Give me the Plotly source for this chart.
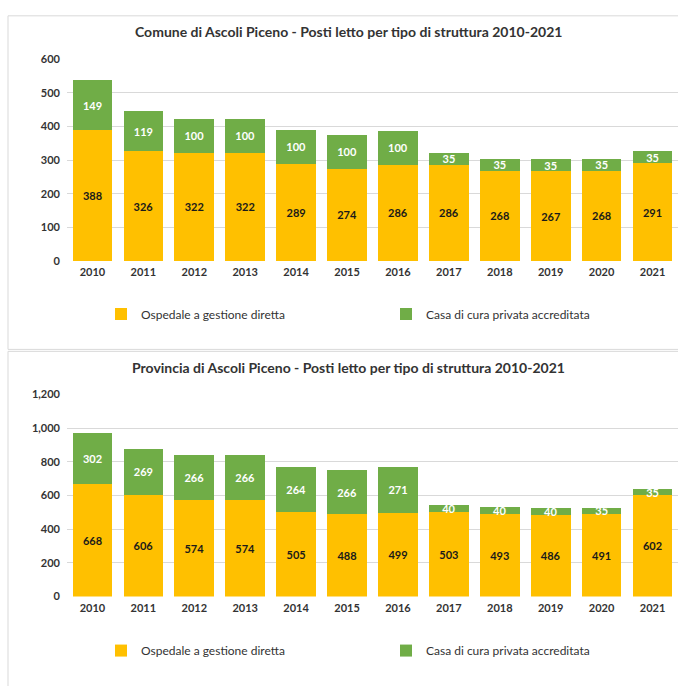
import plotly.graph_objects as go

years = [str(y) for y in range(2010, 2022)]
comune_ospedale = [388, 326, 322, 322, 289, 274, 286, 286, 268, 267, 268, 291]
comune_casa = [149, 119, 100, 100, 100, 100, 100, 35, 35, 35, 35, 35]
prov_ospedale = [668, 606, 574, 574, 505, 488, 499, 503, 493, 486, 491, 602]
prov_casa = [302, 269, 266, 266, 264, 266, 271, 40, 40, 40, 35, 35]

name_osp = "Ospedale a gestione diretta"
name_casa = "Casa di cura privata accreditata"
title_top = "Comune di Ascoli Piceno - Posti letto per tipo di struttura 2010-2021"
title_bot = "Provincia di Ascoli Piceno - Posti letto per tipo di struttura 2010-2021"

YELLOW = "#FFC000"
GREEN = "#70AD47"
FONT = "Lato"
TXT = "#333333"

W, H = 678, 686

fig = go.Figure()

def add_pair(osp, casa, xa, ya, leg):
    fig.add_trace(go.Bar(x=years, y=osp, name=name_osp,
                         marker=dict(color=YELLOW, line=dict(width=0)),
                         text=osp, textposition="inside", insidetextanchor="middle",
                         textangle=0,
                         textfont=dict(color="#1a1a1a", size=11, family=FONT, weight="bold"),
                         xaxis=xa, yaxis=ya, legend=leg, hoverinfo="skip"))
    fig.add_trace(go.Bar(x=years, y=casa, name=name_casa,
                         marker=dict(color=GREEN, line=dict(width=0)),
                         text=casa, textposition="inside", insidetextanchor="middle",
                         textangle=0,
                         textfont=dict(color="white", size=11, family=FONT, weight="bold"),
                         xaxis=xa, yaxis=ya, legend=leg, hoverinfo="skip"))

add_pair(comune_ospedale, comune_casa, "x", "y", "legend")
add_pair(prov_ospedale, prov_casa, "x2", "y2", "legend2")

def px_y(p):
    return 1 - p / H

x_dom = [67 / W, 1.0]
axis_common = dict(showgrid=False, showline=False, ticks="", ticklabelstandoff=3,
                   tickfont=dict(size=11, color=TXT, family=FONT, weight="bold"))
yaxis_common = dict(showgrid=True, gridcolor="#D9D9D9", gridwidth=1, zeroline=False,
                    showline=False, ticks="", ticklabelstandoff=6,
                    tickfont=dict(size=11, color=TXT, family=FONT, weight="bold"))

legend_common = dict(orientation="h", x=101 / W, xanchor="left", yanchor="middle",
                     entrywidth=240, entrywidthmode="pixels", traceorder="normal",
                     font=dict(size=12, color=TXT, family=FONT),
                     bgcolor="rgba(0,0,0,0)", itemclick=False, itemdoubleclick=False)

fig.update_layout(
    width=W, height=H,
    margin=dict(l=0, r=0, t=0, b=0),
    paper_bgcolor="white", plot_bgcolor="white",
    barmode="stack", bargap=0.22,
    showlegend=True,
    uniformtext=dict(minsize=11, mode="show"),
    font=dict(family=FONT, color=TXT),
    xaxis=dict(domain=x_dom, anchor="y", **axis_common),
    yaxis=dict(domain=[px_y(259), px_y(53)], range=[0, 600], dtick=100,
               anchor="x", **yaxis_common),
    xaxis2=dict(domain=x_dom, anchor="y2", **axis_common),
    yaxis2=dict(domain=[px_y(601), px_y(395)], range=[0, 1200], dtick=200,
                tickformat=",d", anchor="x2", **yaxis_common),
    legend=dict(y=px_y(313), **legend_common),
    legend2=dict(y=px_y(656), **legend_common),
    annotations=[
        dict(text="<b>" + title_top + "</b>", x=(137 + 560) / 2 / W, y=px_y(25),
             xref="paper", yref="paper", xanchor="center", yanchor="middle",
             showarrow=False, font=dict(size=14, color=TXT, family=FONT)),
        dict(text="<b>" + title_bot + "</b>", x=(137 + 560) / 2 / W, y=px_y(367),
             xref="paper", yref="paper", xanchor="center", yanchor="middle",
             showarrow=False, font=dict(size=14, color=TXT, family=FONT)),
    ],
    shapes=[
        dict(type="rect", xref="paper", yref="paper", x0=8 / W, x1=1.01,
             y0=px_y(349), y1=px_y(9), line=dict(color="#D9D9D9", width=1)),
        dict(type="rect", xref="paper", yref="paper", x0=8 / W, x1=1.01,
             y0=-0.01, y1=px_y(351), line=dict(color="#D9D9D9", width=1)),
    ],
)

fig.write_html("out.html", config={"displayModeBar": False},
               post_script="document.body.style.margin='0';document.body.style.overflow='hidden';")
